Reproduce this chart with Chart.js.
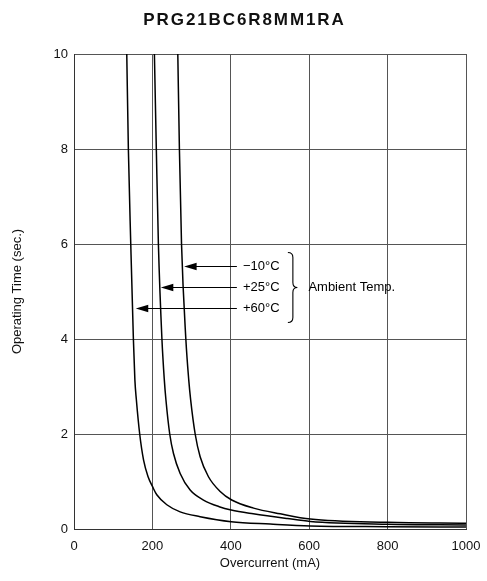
<!DOCTYPE html>
<html>
<head>
<meta charset="utf-8">
<title>PRG21BC6R8MM1RA</title>
<script src="https://cdn.jsdelivr.net/npm/chart.js@4/dist/chart.umd.min.js"></script>
<style>
	html, body { margin: 0; padding: 0; background: #fff; }
	canvas { display: block; }
</style>
</head>
<body>
<canvas id="OperatingChart" width="487" height="581"></canvas>
<script>
	const chartTitle = 'PRG21BC6R8MM1RA';
	const xTicks = [0, 200, 400, 600, 800, 1000];
	const yTicks = [0, 2, 4, 6, 8, 10];

	// operating time curves
	const currentM10 = [264.8, 268.9, 274.3, 285.3, 292.7, 297.6, 309.1, 321.8, 343, 372.9, 402.3, 458, 526.2, 602.8, 800, 1000];
	const timeM10 = [10, 8, 6, 4, 3.14, 2.72, 2.0, 1.52, 1.10, 0.79, 0.61, 0.44, 0.32, 0.21, 0.14, 0.12];

	const current25 = [205.1, 210, 215.3, 224.3, 230.4, 234.5, 244.2, 253.8, 270.8, 296.3, 330.3, 370.4, 401, 457.2, 544, 602.8, 800, 1000];
	const time25 = [10, 8, 6, 4, 3.14, 2.72, 2.0, 1.59, 1.17, 0.82, 0.61, 0.47, 0.40, 0.32, 0.22, 0.16, 0.10, 0.085];

	const current60 = [134.6, 138.7, 144.8, 151.5, 155.3, 159.1, 167.6, 177.5, 189, 201, 211.2, 236.8, 270.8, 321.8, 401, 500.6, 602.8, 800, 1000];
	const time60 = [10, 8, 6, 4, 3.14, 2.72, 2.0, 1.45, 1.10, 0.88, 0.72, 0.51, 0.36, 0.26, 0.155, 0.105, 0.065, 0.05, 0.04];

	// arrow labels
	const tempLabels = ['\u221210\u00b0C', '+25\u00b0C', '+60\u00b0C'];
	const labelTime = [5.54, 5.10, 4.66];
	const arrowTipCurrent = [281, 221.5, 157.6];
	const arrowTailCurrent = 415.5;
	const braceText = 'Ambient Temp.';

	const FONT = 'Liberation Sans, Arial, Helvetica, sans-serif';
	Chart.defaults.font.family = FONT;
	Chart.defaults.font.size = 13;
	Chart.defaults.color = '#111';

	function toPoints(xs, ys) {
		return xs.map((v, i) => ({x: v, y: ys[i]}));
	}

	const annotations = {
		id: 'annotations',
		afterDatasetsDraw(chart) {
			const {ctx, scales: {x, y}} = chart;
			ctx.save();
			ctx.strokeStyle = '#000';
			ctx.fillStyle = '#000';
			ctx.lineWidth = 1.2;
			const tail = x.getPixelForValue(arrowTailCurrent);
			const ys = [];
			for (let i = 0; i < tempLabels.length; i++) {
				const py = Math.round(y.getPixelForValue(labelTime[i])) + 0.5;
				const tip = x.getPixelForValue(arrowTipCurrent[i]);
				ys.push(py);
				ctx.beginPath();
				ctx.moveTo(tip + 8, py);
				ctx.lineTo(tail, py);
				ctx.stroke();
				ctx.beginPath();
				ctx.moveTo(tip, py);
				ctx.lineTo(tip + 12.5, py - 3.8);
				ctx.lineTo(tip + 12.5, py + 3.8);
				ctx.closePath();
				ctx.fill();
				ctx.font = '13px ' + FONT;
				ctx.textAlign = 'left';
				ctx.textBaseline = 'middle';
				ctx.fillText(tempLabels[i], tail + 6, py);
			}
			// brace
			const bx = tail + 51;
			const top = ys[0] - 14, bottom = ys[2] + 14, mid = ys[1];
			ctx.lineWidth = 1.1;
			ctx.beginPath();
			ctx.moveTo(bx, top);
			ctx.quadraticCurveTo(bx + 5, top, bx + 5, top + 5);
			ctx.lineTo(bx + 5, mid - 5);
			ctx.quadraticCurveTo(bx + 5, mid, bx + 9.5, mid);
			ctx.quadraticCurveTo(bx + 5, mid, bx + 5, mid + 5);
			ctx.lineTo(bx + 5, bottom - 5);
			ctx.quadraticCurveTo(bx + 5, bottom, bx, bottom);
			ctx.stroke();
			ctx.fillText(braceText, bx + 20.5, mid);
			ctx.restore();
		},
		afterDraw(chart) {
			const ctx = chart.ctx;
			ctx.save();
			ctx.fillStyle = '#111';
			ctx.font = 'bold 17px ' + FONT;
			ctx.letterSpacing = '1.9px';
			ctx.textAlign = 'center';
			ctx.textBaseline = 'middle';
			ctx.fillText(chartTitle, chart.width / 2 + 1, 20);
			ctx.restore();
		}
	};

	const curveStyle = {
		borderColor: '#000',
		borderWidth: 1.5,
		pointRadius: 0,
		fill: false,
		cubicInterpolationMode: 'monotone'
	};

	new Chart(document.getElementById('OperatingChart').getContext('2d'), {
		type: 'line',
		data: {
			datasets: [
				Object.assign({label: tempLabels[0], data: toPoints(currentM10, timeM10)}, curveStyle),
				Object.assign({label: tempLabels[1], data: toPoints(current25, time25)}, curveStyle),
				Object.assign({label: tempLabels[2], data: toPoints(current60, time60)}, curveStyle)
			]
		},
		options: {
			responsive: false,
			animation: false,
			layout: {padding: {top: 54, left: 8, right: 21, bottom: 10}},
			plugins: {
				legend: {display: false},
				tooltip: {enabled: false}
			},
			scales: {
				x: {
					type: 'linear',
					min: xTicks[0],
					max: xTicks[xTicks.length - 1],
					afterBuildTicks: s => { s.ticks = xTicks.map(v => ({value: v})); },
					afterFit: s => { s.height = 42; s.paddingLeft = 0; s.paddingRight = 15; },
					grid: {color: '#555', lineWidth: 1, drawTicks: false},
					border: {color: '#333', width: 1},
					ticks: {padding: 10, font: {size: 13}, callback: v => String(v)},
					title: {display: true, text: 'Overcurrent (mA)', font: {size: 13}, padding: {top: 0, bottom: 0}}
				},
				y: {
					type: 'linear',
					min: yTicks[0],
					max: yTicks[yTicks.length - 1],
					afterBuildTicks: s => { s.ticks = yTicks.map(v => ({value: v})); },
					afterFit: s => { s.width = 66; },
					grid: {color: '#555', lineWidth: 1, drawTicks: false},
					border: {color: '#333', width: 1},
					ticks: {padding: 6, font: {size: 13}, callback: v => String(v)},
					title: {display: true, text: 'Operating Time (sec.)', font: {size: 13}, padding: {top: 2, bottom: 0}}
				}
			}
		},
		plugins: [annotations]
	});
</script>
</body>
</html>
